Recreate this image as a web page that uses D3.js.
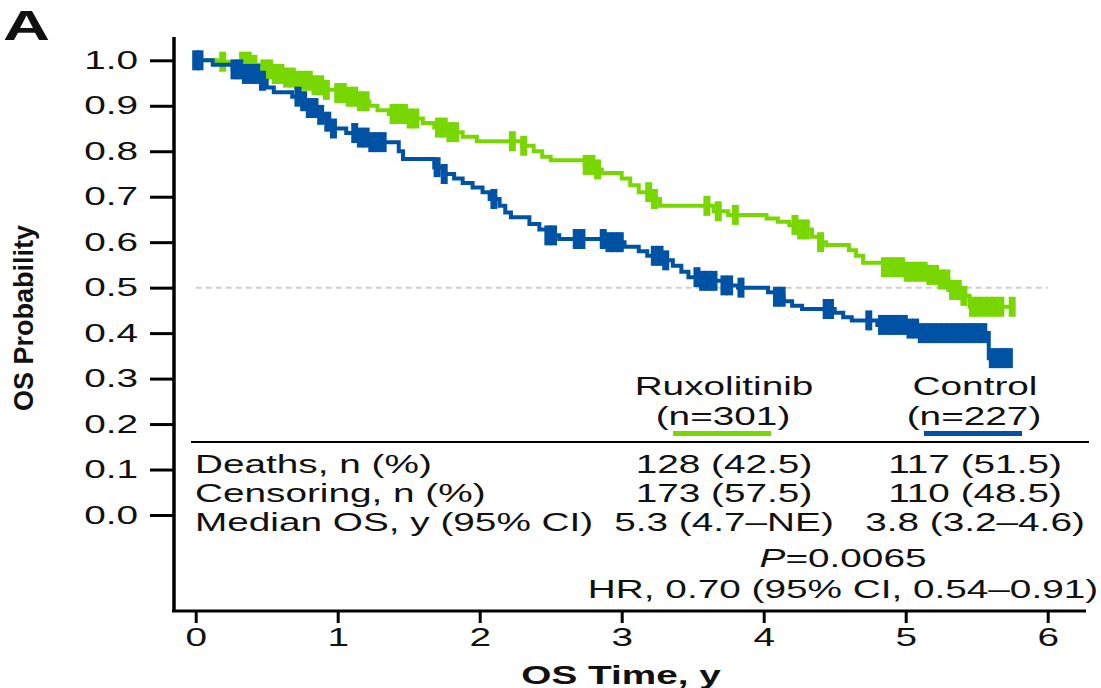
<!DOCTYPE html>
<html>
<head>
<meta charset="utf-8">
<script src="https://cdn.jsdelivr.net/npm/d3@7"></script>
<style>
  body { margin: 0; background: #fff; }
  svg { display: block; }
  text { font-family: "Liberation Sans", Arial, sans-serif; fill: #111; }
</style>
</head>
<body>
<svg id="km-svg" width="1101" height="688"></svg>
<script>
// Ruxolitinib arm: event times (y) and survival after each event
const ruxEventTimes = [0.15, 0.40, 0.47, 0.55, 0.63, 0.72, 0.82, 0.92, 1.00, 1.08, 1.16, 1.22, 1.28, 1.36, 1.50, 1.60, 1.68, 1.78, 1.88, 1.98,
    2.30, 2.38, 2.44, 2.50, 2.74, 2.80, 2.86, 3.00, 3.06, 3.12, 3.20, 3.27, 3.65, 3.75, 4.02, 4.10, 4.18, 4.26, 4.34, 4.40,
    4.44, 4.60, 4.65, 4.70, 4.85, 5.00, 5.15, 5.24, 5.30, 5.38, 5.45];
const ruxEventSurv = [0.997, 0.990, 0.980, 0.970, 0.962, 0.955, 0.945, 0.935, 0.928, 0.920, 0.910, 0.900, 0.890, 0.882, 0.872, 0.862, 0.852, 0.842, 0.832, 0.822,
    0.812, 0.800, 0.788, 0.780, 0.770, 0.760, 0.752, 0.740, 0.725, 0.710, 0.695, 0.680, 0.668, 0.660, 0.652, 0.645, 0.638, 0.628, 0.612, 0.600,
    0.594, 0.582, 0.570, 0.555, 0.545, 0.535, 0.528, 0.518, 0.495, 0.482, 0.458];
const ruxCensorTimes = [0.19, 0.33, 0.37, 0.41, 0.48, 0.52, 0.56, 0.60, 0.64, 0.68, 0.72, 0.76, 0.80, 0.84, 0.88, 0.92,
    1.00, 1.04, 1.08, 1.12, 1.16, 1.20, 1.39, 1.43, 1.47, 1.51, 1.55, 1.71, 1.75, 1.79, 1.83, 2.23, 2.31, 2.75, 2.79, 2.83,
    3.19, 3.23, 3.60, 3.68, 3.80, 4.22, 4.26, 4.30, 4.40, 4.85, 4.89, 4.93, 4.97, 5.01, 5.05, 5.09, 5.13, 5.17, 5.21,
    5.25, 5.29, 5.33, 5.37, 5.41, 5.47, 5.51, 5.55, 5.59, 5.63, 5.67, 5.75];

// Control arm
const ctlEventTimes = [0.12, 0.26, 0.33, 0.46, 0.50, 0.55, 0.68, 0.74, 0.80, 0.86, 0.92, 0.97, 1.06, 1.13, 1.22, 1.43, 1.46, 1.68, 1.74, 1.82,
    1.88, 1.95, 2.02, 2.07, 2.14, 2.18, 2.22, 2.35, 2.42, 2.48, 2.56, 2.88, 3.02, 3.12, 3.18, 3.30, 3.36, 3.42, 3.47, 3.54,
    3.72, 3.82, 4.03, 4.08, 4.14, 4.20, 4.27, 4.50, 4.56, 4.62, 4.80, 5.00, 5.08, 5.585];
const ctlEventSurv = [0.990, 0.980, 0.970, 0.955, 0.940, 0.930, 0.920, 0.910, 0.895, 0.880, 0.865, 0.850, 0.840, 0.830, 0.820, 0.800, 0.783, 0.765, 0.750, 0.740,
    0.730, 0.720, 0.710, 0.695, 0.680, 0.665, 0.655, 0.640, 0.628, 0.615, 0.607, 0.600, 0.590, 0.580, 0.570, 0.560, 0.548, 0.535, 0.523, 0.515,
    0.505, 0.500, 0.490, 0.480, 0.470, 0.460, 0.453, 0.445, 0.435, 0.428, 0.418, 0.410, 0.400, 0.345];
const ctlCensorTimes = [0.00, 0.03, 0.27, 0.31, 0.35, 0.39, 0.43, 0.47, 0.72, 0.76, 0.80, 0.84, 0.88, 0.93, 0.97,
    1.12, 1.16, 1.20, 1.24, 1.28, 1.32, 1.70, 1.75, 2.10, 2.48, 2.52, 2.68, 2.72, 2.87, 2.91, 2.95, 2.99,
    3.23, 3.27, 3.31, 3.53, 3.57, 3.61, 3.65, 3.72, 3.76, 3.84, 4.09, 4.13, 4.44, 4.47, 4.74,
    4.83, 4.87, 4.91, 4.95, 4.99, 5.03, 5.07, 5.11, 5.15, 5.19, 5.23, 5.27, 5.31, 5.35, 5.39, 5.43, 5.47, 5.51, 5.55,
    5.61, 5.65, 5.69, 5.73];

const xTicks = [0, 1, 2, 3, 4, 5, 6];
const yTicks = [0, 0.1, 0.2, 0.3, 0.4, 0.5, 0.6, 0.7, 0.8, 0.9, 1.0];
const medianLine = 0.5;

const armNames = ["Ruxolitinib", "Control"];
const armCounts = ["(n=301)", "(n=227)"];
const rowLabels = ["Deaths, n (%)", "Censoring, n (%)", "Median OS, y (95% CI)"];
const ruxValues = ["128 (42.5)", "173 (57.5)", "5.3 (4.7\u2013NE)"];
const ctlValues = ["117 (51.5)", "110 (48.5)", "3.8 (3.2\u20134.6)"];
const pValue = "=0.0065";
const hrText = "HR, 0.70 (95% CI, 0.54\u20130.91)";

const ruxColor = "#78d700";
const ctlColor = "#0052a5";
const STRETCH = 1.55;   // the picture is wider than its type

const svg = d3.select("#km-svg");
svg.append("rect").attr("width", 1101).attr("height", 688).attr("fill", "#fff");

const x = d3.scaleLinear().domain([0, 6]).range([195.7, 1047.7]);
const y = d3.scaleLinear().domain([0, 1]).range([515, 60.3]);

// stretched text placed at an anchor point
function label(sel, px, py, str, size, anchor, weight) {
    return sel.append("text")
        .attr("transform", `translate(${px},${py}) scale(${STRETCH},1)`)
        .attr("text-anchor", anchor || "start")
        .attr("font-size", size)
        .attr("font-weight", weight || "normal")
        .text(str);
}

// axes
const yAxis = svg.append("g")
    .attr("transform", "translate(174,0)")
    .call(d3.axisLeft(y).tickValues(yTicks).tickSize(24).tickPadding(12).tickFormat(d3.format(".1f")));
const xAxis = svg.append("g")
    .attr("transform", "translate(0,611)")
    .call(d3.axisBottom(x).tickValues(xTicks).tickSize(12).tickPadding(5).tickFormat(d3.format("d")));

[yAxis, xAxis].forEach(ax => {
    ax.select(".domain").remove();
    ax.selectAll(".tick line").attr("stroke", "#000").attr("stroke-width", 3);
    ax.selectAll(".tick text").attr("font-size", 25).attr("fill", "#111")
        .attr("font-family", "\"Liberation Sans\", Arial, sans-serif");
});
yAxis.selectAll(".tick text").each(function () {
    const tx = +this.getAttribute("x");
    d3.select(this).attr("x", 0).attr("transform", `translate(${tx},0) scale(${STRETCH},1)`);
});
xAxis.selectAll(".tick text").attr("transform", `scale(${STRETCH},1)`);

// frame lines
svg.append("line").attr("x1", 174).attr("x2", 174).attr("y1", 37).attr("y2", 612)
    .attr("stroke", "#000").attr("stroke-width", 3.5);
svg.append("line").attr("x1", 172).attr("x2", 1086).attr("y1", 611).attr("y2", 611)
    .attr("stroke", "#000").attr("stroke-width", 3);

// median reference line
svg.append("line")
    .attr("x1", x(0)).attr("x2", x(6))
    .attr("y1", y(medianLine)).attr("y2", y(medianLine))
    .attr("stroke", "#cfcfcf").attr("stroke-width", 2).attr("stroke-dasharray", "6,4");

// survival curves
function survAt(times, surv, t) {
    let s = 1;
    times.forEach((et, i) => { if (et <= t) s = surv[i]; });
    return s;
}

function drawArm(times, surv, censors, color) {
    const end = d3.max([d3.max(times), d3.max(censors)]);
    const pts = [[0, 1]].concat(times.map((t, i) => [t, surv[i]]));
    pts.push([end, surv[surv.length - 1]]);
    const line = d3.line().x(d => x(d[0])).y(d => y(d[1])).curve(d3.curveStepAfter);
    svg.append("path").datum(pts)
        .attr("d", line)
        .attr("fill", "none")
        .attr("stroke", color)
        .attr("stroke-width", 4);
    svg.append("g").selectAll("rect")
        .data(censors)
        .enter()
        .append("rect")
        .attr("x", d => x(d) - 3.5)
        .attr("y", d => y(survAt(times, surv, d)) - 10)
        .attr("width", 7)
        .attr("height", 20)
        .attr("fill", color);
}
drawArm(ruxEventTimes, ruxEventSurv, ruxCensorTimes, ruxColor);
drawArm(ctlEventTimes, ctlEventSurv, ctlCensorTimes, ctlColor);

// table header
const colX = [724, 975];
armNames.forEach((name, i) => label(svg, colX[i], 395, name, 25, "middle"));
armCounts.forEach((n, i) => label(svg, colX[i] - 1, 425, n, 25, "middle"));
[ruxColor, ctlColor].forEach((c, i) => {
    svg.append("line")
        .attr("x1", colX[i] - 51).attr("x2", colX[i] + 47)
        .attr("y1", 433.5).attr("y2", 433.5)
        .attr("stroke", c).attr("stroke-width", 5);
});
svg.append("line").attr("x1", 191).attr("x2", 1089).attr("y1", 442).attr("y2", 442)
    .attr("stroke", "#000").attr("stroke-width", 2);

// table rows
const rowY = [473, 502, 531];
rowLabels.forEach((r, i) => label(svg, 195, rowY[i], r, 25, "start"));
ruxValues.forEach((v, i) => label(svg, colX[0], rowY[i], v, 25, "middle"));
ctlValues.forEach((v, i) => label(svg, colX[1], rowY[i], v, 25, "middle"));

const pText = label(svg, 843, 567, "", 25, "middle");
pText.append("tspan").attr("font-style", "italic").text("P");
pText.append("tspan").text(pValue);
label(svg, 843, 598, hrText, 25, "middle");

// axis titles
label(svg, 621, 684, "OS Time, y", 25, "middle", "bold");
svg.append("text")
    .attr("transform", "translate(33,318) rotate(-90)")
    .attr("text-anchor", "middle")
    .attr("font-size", 27)
    .attr("font-weight", "bold")
    .text("OS Probability");

// panel letter
label(svg, 3, 40, "A", 42, "start", "bold");
</script>
</body>
</html>
